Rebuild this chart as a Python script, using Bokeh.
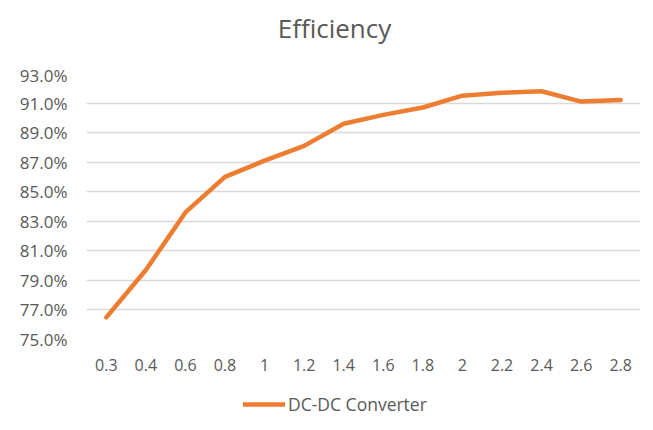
from bokeh.plotting import figure
from bokeh.layouts import column
from bokeh.models import (ColumnDataSource, FactorRange, Range1d, FixedTicker,
                          NumeralTickFormatter, Legend, LegendItem, Label)
from bokeh.embed import file_html
from bokeh.resources import INLINE

categories = ["0.3", "0.4", "0.6", "0.8", "1", "1.2", "1.4", "1.6", "1.8",
              "2", "2.2", "2.4", "2.6", "2.8"]
efficiency_pct = [76.5, 79.7, 83.6, 86.0, 87.1, 88.1, 89.6, 90.2, 90.7,
                  91.5, 91.7, 91.8, 91.1, 91.2]
y_tick_pct = [75, 77, 79, 81, 83, 85, 87, 89, 91, 93]
series_name = "DC-DC Converter"
title_text = "Efficiency"

FONT = "Open Sans"
GREY = "#595959"
ORANGE = "#ED7D31"

src = ColumnDataSource(dict(x=categories, y=[v / 100 for v in efficiency_pct]))

line_style = dict(line_color=ORANGE, line_width=4.5, line_join="round",
                  line_cap="round")

# title strip above the chart
tp = figure(width=653, height=63, output_backend="svg", toolbar_location=None,
            x_range=Range1d(0, 1), y_range=Range1d(0, 1), min_border=0)
tp.axis.visible = False
tp.grid.visible = False
tp.outline_line_color = None
tp.add_layout(Label(x=0.4477, y=0.57, text=title_text, text_font=FONT,
                    text_font_size="26px", text_color=GREY,
                    text_align="center", text_baseline="middle"))

# main chart
p = figure(frame_width=554, frame_height=266, output_backend="svg",
           toolbar_location=None,
           x_range=FactorRange(*categories),
           y_range=Range1d(y_tick_pct[0] / 100, y_tick_pct[-1] / 100),
           min_border_left=86, min_border_right=13, min_border_top=10,
           min_border_bottom=46)

p.line("x", "y", source=src, **line_style)

p.outline_line_color = None
p.xgrid.grid_line_color = None
p.ygrid.grid_line_color = "#D9D9D9"
p.ygrid.grid_line_width = 1.3

p.yaxis.ticker = FixedTicker(ticks=[t / 100 for t in y_tick_pct])
p.yaxis.formatter = NumeralTickFormatter(format="0.0%")

for ax in (p.xaxis[0], p.yaxis[0]):
    ax.axis_line_color = None
    ax.major_tick_line_color = None
    ax.minor_tick_line_color = None
    ax.major_tick_out = 0
    ax.major_tick_in = 0
    ax.major_label_text_font = FONT
    ax.major_label_text_color = GREY

p.yaxis.major_label_text_font_size = "17px"
p.xaxis.major_label_text_font_size = "16px"
p.yaxis.major_label_standoff = 19
p.xaxis.major_label_standoff = 19

# legend strip below the chart
lp = figure(width=653, height=45, output_backend="svg", toolbar_location=None,
            x_range=Range1d(0, 1), y_range=Range1d(0, 1), min_border=0)
lp.axis.visible = False
lp.grid.visible = False
lp.outline_line_color = None
lr = lp.line(x=[-2, -1], y=[-2, -2], **line_style)
legend = Legend(items=[LegendItem(label=series_name, renderers=[lr])],
                orientation="horizontal", location=(157, 14),
                glyph_width=42, glyph_height=20, label_height=20,
                label_standoff=3,
                label_text_font=FONT, label_text_font_size="17.5px",
                label_text_color=GREY, border_line_color=None,
                background_fill_alpha=0, margin=0, padding=0)
lp.add_layout(legend)

layout = column(tp, p, lp, spacing=0)
open("out.html", "w").write(file_html(layout, INLINE))
